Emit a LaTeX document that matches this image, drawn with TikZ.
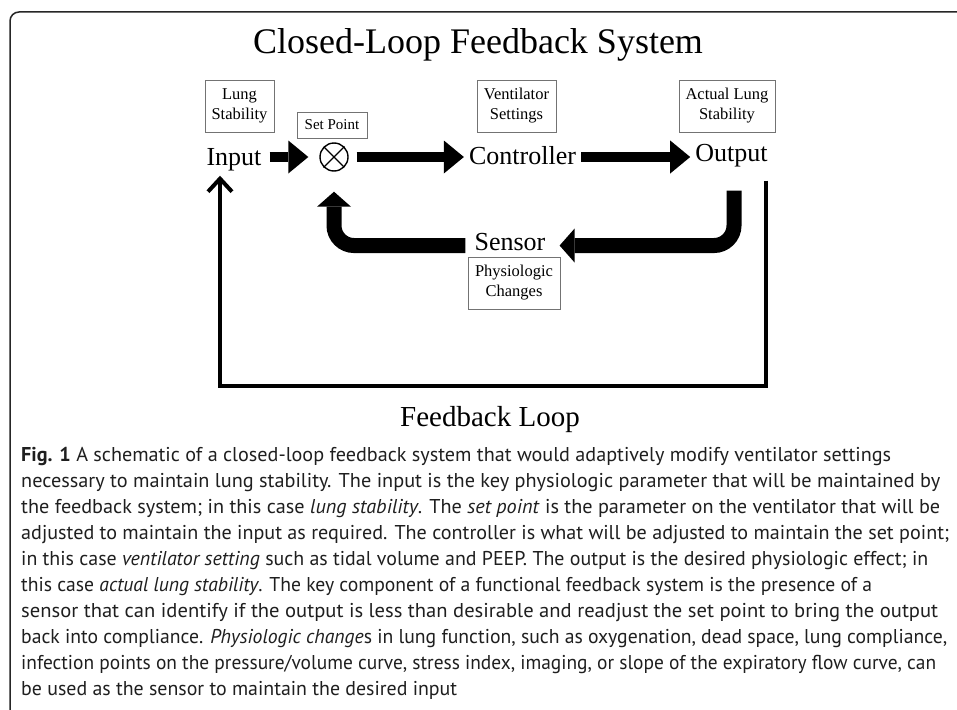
\documentclass[tikz,border=0pt]{standalone}
\usepackage{fontspec}
\usepackage{graphicx}
\setmainfont{Liberation Serif}
\newfontfamily\capfont{PT Sans}
\usetikzlibrary{arrows.meta}
\newcommand\capline[2]{\resizebox{#1pt}{\height}{\capfont\fontsize{20}{24}\selectfont #2}}
\begin{document}
\begin{tikzpicture}[x=1pt,y=-1pt,
  framestyle/.style={line width=1.5pt, draw=black!85},
  titlestyle/.style={font=\fontsize{36}{40}\selectfont, inner sep=0pt, anchor=base},
  bigtext/.style={font=\fontsize{26}{30}\selectfont, inner sep=0pt, anchor=base},
  lblbox/.style={draw=black!55, line width=0.8pt, align=center, inner sep=0pt,
     font=\fontsize{16.5}{20}\selectfont, minimum height=52pt},
  bigarrow/.style={line width=10pt, -{Triangle[width=33pt,length=20pt,line width=0pt]}},
  fbarrow/.style={line width=15pt, rounded corners=20pt, -{Triangle[width=34pt,length=15pt,line width=0pt]}},
  loopline/.style={line width=4pt, line join=miter, -{Straight Barb[length=13pt,width=24pt]}},
  capstyle/.style={anchor=base west, inner sep=0pt, text=black!88}
]
\useasboundingbox (0,0) rectangle (957,709);
\fill[white] (0,0) rectangle (957,709);
\draw[framestyle, rounded corners=9pt] (960,12) -- (10,12) -- (10,712);

\node[titlestyle] (title) at (478,53) {Closed-Loop Feedback System};

% label boxes
\node[lblbox, minimum width=69pt] (lungbox) at (239.5,106) {Lung\\Stability};
\node[lblbox, minimum width=70pt, minimum height=26pt, font=\fontsize{15}{18}\selectfont] (setbox) at (332,125) {Set Point};
\node[lblbox, minimum width=79pt] (ventbox) at (516.5,106) {Ventilator\\Settings};
\node[lblbox, minimum width=96pt] (actbox) at (727,106) {Actual Lung\\Stability};
\node[lblbox, minimum width=92pt] (physbox) at (514,283) {Physiologic\\Changes};

% main text nodes
\node[bigtext] (input) at (234,165) {Input};
\node[draw, circle, line width=1.4pt, minimum size=28pt, inner sep=0pt] (sp) at (334,157) {};
\draw[line width=1.4pt, shorten <=1pt, shorten >=1pt] (sp.45) -- (sp.225) (sp.135) -- (sp.-45);
\node[bigtext] (ctrl) at (522.5,164) {Controller};
\node[bigtext] (out) at (731.5,161) {Output};
\node[bigtext] (sensor) at (510,250) {Sensor};
\node[font=\fontsize{29}{32}\selectfont, inner sep=0pt, anchor=base] (fbl) at (490,426) {Feedback Loop};

% forward arrows
\draw[bigarrow, shorten <=8pt, shorten >=11pt] (input.east |- sp.center) -- (sp.west);
\draw[bigarrow, shorten <=8pt, shorten >=5pt] (sp.east) -- (ctrl.west |- sp.center);
\draw[bigarrow, shorten <=5pt, shorten >=5pt] (ctrl.east |- sp.center) -- (out.west |- sp.center);

% sensor feedback arrows
\coordinate (fbtop) at ([xshift=2.5pt,yshift=-24pt]out.south);
\draw[fbarrow] (fbtop) |- ([xshift=14pt,yshift=-4pt]sensor.east);
\draw[fbarrow, shorten >=20pt] ([xshift=-9pt,yshift=-4pt]sensor.west) -| (sp.south);

% feedback loop
\coordinate (loopR) at (766,386);
\coordinate (loopL) at (220,386);
\coordinate (outfoot) at ([yshift=-14pt]out.south east);
\draw[loopline, shorten >=5pt] (outfoot -| loopR) -- (loopR) -- (loopL) -- (loopL |- input.south);

% caption
\node[capstyle] (c1) at (21,461) {\capline{870}{\textbf{Fig. 1} A schematic of a closed-loop feedback system that would adaptively modify ventilator settings}};
\node[capstyle] (c2) at (21,487) {\capline{919}{necessary to maintain lung stability. The input is the key physiologic parameter that will be maintained by}};
\node[capstyle] (c3) at (21,513) {\capline{919}{the feedback system; in this case \textit{lung stability}. The \textit{set point} is the parameter on the ventilator that will be}};
\node[capstyle] (c4) at (21,539) {\capline{928}{adjusted to maintain the input as required. The controller is what will be adjusted to maintain the set point;}};
\node[capstyle] (c5) at (21,565) {\capline{907}{in this case \textit{ventilator setting} such as tidal volume and PEEP. The output is the desired physiologic effect; in}};
\node[capstyle] (c6) at (21,591) {\capline{851}{this case \textit{actual lung stability}. The key component of a functional feedback system is the presence of a}};
\node[capstyle] (c7) at (21,617) {\capline{917}{sensor that can identify if the output is less than desirable and readjust the set point to bring the output}};
\node[capstyle] (c8) at (21,643) {\capline{926}{back into compliance. \textit{Physiologic change}s in lung function, such as oxygenation, dead space, lung compliance,}};
\node[capstyle] (c9) at (21,669) {\capline{915}{infection points on the pressure/volume curve, stress index, imaging, or slope of the expiratory flow curve, can}};
\node[capstyle] (c10) at (21,695) {\capline{436}{be used as the sensor to maintain the desired input}};
\end{tikzpicture}
\end{document}
